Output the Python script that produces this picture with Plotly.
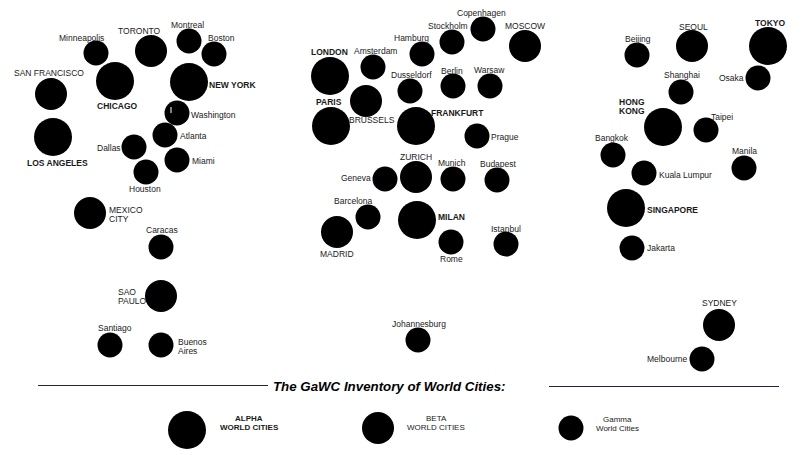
import plotly.graph_objects as go

# city positions, one group per tier
alpha_cities = ["CHICAGO", "NEW YORK", "LOS ANGELES", "LONDON", "PARIS", "FRANKFURT", "MILAN",
                "TOKYO", "HONG KONG", "SINGAPORE"]
alpha_x = [115, 189, 53, 330, 331, 416, 417, 768, 663, 626]
alpha_y = [81, 82, 137, 76, 126, 126, 220, 46, 127, 208]

beta_cities = ["TORONTO", "SAN FRANCISCO", "MEXICO CITY", "SAO PAULO", "MOSCOW", "BRUSSELS",
               "ZURICH", "MADRID", "SEOUL", "SYDNEY"]
beta_x = [151, 51, 90, 161, 525, 366, 416, 337, 692, 719]
beta_y = [51, 94, 213, 296, 46, 101, 177, 232, 46, 325]

gamma_cities = ["Minneapolis", "Montreal", "Boston", "Washington", "Atlanta", "Dallas", "Miami",
                "Houston", "Caracas", "Santiago", "Buenos Aires", "Amsterdam", "Hamburg",
                "Stockholm", "Copenhagen", "Dusseldorf", "Berlin", "Warsaw", "Prague", "Geneva",
                "Munich", "Budapest", "Barcelona", "Rome", "Istanbul", "Johannesburg", "Beijing",
                "Osaka", "Shanghai", "Taipei", "Bangkok", "Manila", "Kuala Lumpur", "Jakarta",
                "Melbourne"]
gamma_x = [96, 189, 214, 177, 165, 134, 177, 146, 161, 110, 161, 373, 422, 452, 483, 410, 453,
           490, 477, 385, 453, 497, 368, 451, 506, 418, 637, 758, 681, 706, 613, 744, 644, 632,
           702]
gamma_y = [53, 41, 54, 113, 135, 147, 160, 172, 247, 345, 345, 67, 54, 42, 29, 91, 86, 86, 136,
           179, 179, 180, 217, 242, 244, 340, 55, 78, 92, 130, 155, 168, 173, 248, 359]

legend_x = [187, 378, 571]
legend_y = [430, 428, 428]
legend_labels = [["ALPHA", "WORLD CITIES"], ["BETA", "WORLD CITIES"], ["Gamma", "World Cities"]]
legend_label_x = [249, 436, 617]
legend_label_y = [422.5, 422.5, 423.5]

title_text = "The GaWC Inventory of World Cities:"

# label placement: x, y, anchor
label_pos = {
    "CHICAGO": (117, 106, "center"), "NEW YORK": (232, 85, "center"),
    "LOS ANGELES": (57, 163, "center"), "LONDON": (329, 52, "center"),
    "PARIS": (329, 102, "center"), "FRANKFURT": (457, 113, "center"),
    "MILAN": (451, 217, "center"), "TOKYO": (770, 23, "center"),
    "HONG KONG": (647, 106.5, "right"), "SINGAPORE": (672, 210, "center"),
    "TORONTO": (139, 31, "center"), "SAN FRANCISCO": (49, 73, "center"),
    "MEXICO CITY": (107, 214.5, "left"), "SAO PAULO": (116, 296.5, "left"),
    "MOSCOW": (525, 26, "center"), "BRUSSELS": (372, 120, "center"),
    "ZURICH": (416, 157, "center"), "MADRID": (337, 254, "center"),
    "SEOUL": (693, 27, "center"), "SYDNEY": (719, 303, "center"),
    "Minneapolis": (81, 38, "center"), "Montreal": (187, 25, "center"),
    "Boston": (221, 38, "center"), "Washington": (213, 115, "center"),
    "Atlanta": (193, 136, "center"), "Dallas": (109, 148, "center"),
    "Miami": (203, 161, "center"), "Houston": (145, 189, "center"),
    "Caracas": (162, 230, "center"), "Santiago": (115, 328, "center"),
    "Buenos Aires": (176, 346.5, "left"), "Amsterdam": (375, 51, "center"),
    "Hamburg": (411, 38, "center"), "Stockholm": (448, 26, "center"),
    "Copenhagen": (481, 13, "center"), "Dusseldorf": (411, 75, "center"),
    "Berlin": (452, 71, "center"), "Warsaw": (489, 70, "center"),
    "Prague": (505, 137, "center"), "Geneva": (356, 178, "center"),
    "Munich": (452, 163, "center"), "Budapest": (498, 164, "center"),
    "Barcelona": (353, 201, "center"), "Rome": (451, 259, "center"),
    "Istanbul": (506, 229, "center"), "Johannesburg": (419, 324, "center"),
    "Beijing": (638, 39, "center"), "Osaka": (731, 78, "center"),
    "Shanghai": (682, 75, "center"), "Taipei": (722, 117, "center"),
    "Bangkok": (612, 138, "center"), "Manila": (744, 151, "center"),
    "Kuala Lumpur": (685, 175, "center"), "Jakarta": (661, 248, "center"),
    "Melbourne": (667, 359, "center"),
}
two_line = {"HONG KONG": ["HONG", "KONG"], "MEXICO CITY": ["MEXICO", "CITY"],
            "SAO PAULO": ["SAO", "PAULO"], "Buenos Aires": ["Buenos", "Aires"]}

FONT = "Liberation Sans"
INK = "#1a1a1a"
LINE_GAP = 9  # plotly's own <br> spacing is too loose here


def put_label(fig, lines, x, y, anchor, size, bold=False):
    # one annotation per line, centred round y
    top = y - LINE_GAP * (len(lines) - 1) / 2
    for i, line in enumerate(lines):
        text = "<b>" + line + "</b>" if bold else line
        fig.add_annotation(x=x, y=top + i * LINE_GAP, text=text, showarrow=False, xanchor=anchor,
                           yanchor="middle", font=dict(family=FONT, size=size, color=INK))


fig = go.Figure()

for xs, ys, names, size in [(alpha_x, alpha_y, alpha_cities, 38),
                            (beta_x, beta_y, beta_cities, 32),
                            (gamma_x, gamma_y, gamma_cities, 25)]:
    fig.add_trace(go.Scatter(x=xs, y=ys, text=names, mode="markers", hoverinfo="text",
                             marker=dict(size=size, color="black", line_width=0)))

# legend dots
fig.add_trace(go.Scatter(x=legend_x, y=legend_y, mode="markers", hoverinfo="skip",
                         marker=dict(size=[38, 32, 25], color="black", opacity=1, line_width=0)))

# city labels
for name in alpha_cities + beta_cities + gamma_cities:
    px, py, anchor = label_pos[name]
    put_label(fig, two_line.get(name, [name]), px, py, anchor, 8.5, bold=name in alpha_cities)

# legend labels
for i, lines in enumerate(legend_labels):
    put_label(fig, lines, legend_label_x[i], legend_label_y[i], "center", 8, bold=i == 0)

fig.add_annotation(x=389, y=386, text="<b><i>" + title_text + "</i></b>", showarrow=False,
                   font=dict(family=FONT, size=13.3, color="black"))

# rules either side of the title
fig.add_shape(type="line", x0=38, x1=268, y0=385.5, y1=385.5, line=dict(color="#24243c", width=1))
fig.add_shape(type="line", x0=549, x1=779, y0=386.5, y1=386.5, line=dict(color="#24243c", width=1))
# small nick in the Washington dot
fig.add_shape(type="line", x0=171, x1=171, y0=107, y1=113, line=dict(color="white", width=1),
              layer="above")

fig.update_xaxes(range=[0, 807], visible=False, fixedrange=True)
fig.update_yaxes(range=[455, 0], visible=False, fixedrange=True)
fig.update_layout(width=807, height=455, margin=dict(l=0, r=0, t=0, b=0),
                  paper_bgcolor="white", plot_bgcolor="white", showlegend=False)

# the page body has a default margin, drop it so the figure fills the window
fig.write_html("out.html", config={"displayModeBar": False},
               post_script="document.body.style.margin='0';")
